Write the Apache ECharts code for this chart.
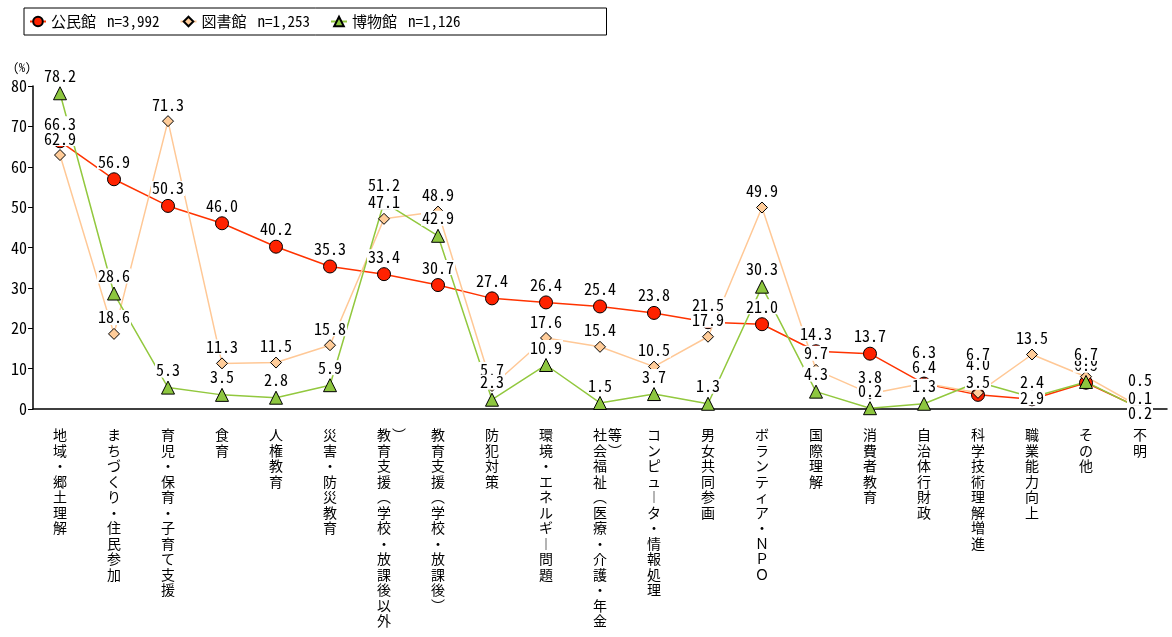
<!DOCTYPE html>
<html>
<head>
<meta charset="utf-8">
<script src="https://cdn.jsdelivr.net/npm/echarts@6/dist/echarts.min.js"></script>
<style>
  html, body { margin: 0; padding: 0; background: #fff; }
  #chart { width: 1172px; height: 637px; }
</style>
</head>
<body>
<div id="chart"></div>
<script>
// 学習内容の分野別実施割合（施設種別）
const categories = [
  '地域・郷土理解', 'まちづくり・住民参加', '育児・保育・子育て支援', '食育', '人権教育',
  '災害・防災教育', '教育支援（学校・放課後以外）', '教育支援（学校・放課後）', '防犯対策',
  '環境・エネルギー問題', '社会福祉（医療・介護・年金等）', 'コンピュータ・情報処理',
  '男女共同参画', 'ボランティア・ＮＰＯ', '国際理解', '消費者教育', '自治体行財政',
  '科学技術理解増進', '職業能力向上', 'その他', '不明'
];

const seriesNames = ['公民館', '図書館', '博物館'];
const sampleSizes = ['n=3,992', 'n=1,253', 'n=1,126'];

const kominkan     = [66.3, 56.9, 50.3, 46.0, 40.2, 35.3, 33.4, 30.7, 27.4, 26.4, 25.4, 23.8, 21.5, 21.0, 14.3, 13.7, 6.3, 3.5, 2.4, 6.5, 0.2];
const toshokan     = [62.9, 18.6, 71.3, 11.3, 11.5, 15.8, 47.1, 48.9, 5.7, 17.6, 15.4, 10.5, 17.9, 49.9, 9.7, 3.8, 6.4, 4.0, 13.5, 8.0, 0.5];
const hakubutsukan = [78.2, 28.6, 5.3, 3.5, 2.8, 5.9, 51.2, 42.9, 2.3, 10.9, 1.5, 3.7, 1.3, 30.3, 4.3, 0.2, 1.3, 6.7, 2.9, 6.7, 0.1];

const yTicks = { min: 0, max: 80, interval: 10 };

// label nudges for crowded points: [seriesIndex, categoryIndex, dx, dy]
const labelNudges = [
  [0, 16, 0, -14],
  [2, 17, 0, -11],
  [1, 17, 0, -12],
  [0, 17, 0, 5],
  [2, 18, 0, 18],
  [2, 19, 0, -11],
  [1, 20, 0, -11],
  [2, 20, 0, 7],
  [0, 20, 0, 22]
];

const NUM_FONT = "'Noto Sans Mono CJK JP', 'DejaVu Sans Mono', monospace";
const JP_FONT = "'Noto Sans CJK JP', sans-serif";

// vertical writing: rotate brackets and long vowel marks, wrap long columns
const VERT = { '（': '︵', '）': '︶', 'ー': '︱' };
const COL_LEN = 13;
function verticalLabel(text) {
  const chars = Array.from(text).map(c => VERT[c] || c);
  if (chars.length <= COL_LEN) return chars.join('\n');
  const first = chars.slice(0, COL_LEN);
  const rest = chars.slice(COL_LEN);
  return first.map((c, i) => '{p| }{a|' + c + '}{b|' + (rest[i] || ' ') + '}').join('\n');
}

const styles = [
  { color: '#FF3300', fill: '#FF2200', symbol: 'circle', size: 13 },
  { color: '#FFC896', fill: '#FFCC99', symbol: 'diamond', size: 11 },
  { color: '#92C83E', fill: '#8DC63F', symbol: 'triangle', size: 13 }
];

function buildData(values, si) {
  return values.map((v, i) => {
    const n = labelNudges.find(x => x[0] === si && x[1] === i);
    if (!n) return v;
    return { value: v, label: { offset: [n[2], n[3]] } };
  });
}

const allValues = [kominkan, toshokan, hakubutsukan];

const chart = echarts.init(document.getElementById('chart'), null, { renderer: 'canvas' });

chart.setOption({
  animation: false,
  backgroundColor: '#fff',
  legend: {
    left: 24,
    top: 8,
    orient: 'horizontal',
    padding: [6, 146, 6, 5],
    itemWidth: 16,
    itemHeight: 12,
    itemGap: 20,
    borderColor: '#000',
    borderWidth: 1,
    data: seriesNames,
    formatter: name => '{n|' + name + '}{c|' + sampleSizes[seriesNames.indexOf(name)] + '}',
    textStyle: {
      rich: {
        n: { fontFamily: JP_FONT, fontSize: 15, color: '#000', width: 56 },
        c: { fontFamily: NUM_FONT, fontSize: 15, color: '#000', width: 82 }
      }
    }
  },
  grid: { left: 33, right: 5, top: 86, bottom: 228, containLabel: false },
  xAxis: {
    type: 'category',
    data: categories,
    boundaryGap: true,
    axisLine: { lineStyle: { color: '#000', width: 1.5 } },
    axisTick: { show: false },
    axisLabel: {
      interval: 0,
      margin: 18,
      fontFamily: JP_FONT,
      fontSize: 14,
      lineHeight: 15.5,
      color: '#000',
      verticalAlign: 'top',
      formatter: verticalLabel,
      rich: {
        p: { width: 16, fontSize: 14, lineHeight: 15.5 },
        a: { width: 14, align: 'center', fontSize: 14, lineHeight: 15.5, fontFamily: JP_FONT, color: '#000' },
        b: { width: 16, align: 'center', fontSize: 14, lineHeight: 15.5, fontFamily: JP_FONT, color: '#000' }
      }
    },
    splitLine: { show: false }
  },
  yAxis: {
    type: 'value',
    min: yTicks.min,
    max: yTicks.max,
    interval: yTicks.interval,
    name: '(%)',
    nameLocation: 'end',
    nameGap: 13,
    nameTextStyle: { fontFamily: NUM_FONT, fontSize: 12, color: '#000', align: 'right', padding: [0, 2, 0, 0] },
    axisLine: { show: true, lineStyle: { color: '#000', width: 1.5 } },
    axisTick: { show: true, length: 5, lineStyle: { color: '#000' } },
    axisLabel: { fontFamily: NUM_FONT, fontSize: 16, color: '#000', margin: 6 },
    splitLine: { show: false }
  },
  series: allValues.map((vals, si) => ({
    name: seriesNames[si],
    type: 'line',
    data: buildData(vals, si),
    symbol: styles[si].symbol,
    symbolSize: styles[si].size,
    lineStyle: { color: styles[si].color, width: 1.5 },
    itemStyle: { color: styles[si].fill, borderColor: '#000', borderWidth: 1 },
    label: {
      show: true,
      position: 'top',
      distance: 3,
      formatter: p => Number(p.value).toFixed(1),
      fontFamily: NUM_FONT,
      fontSize: 16,
      lineHeight: 15,
      color: '#000',
      backgroundColor: '#fff',
      padding: [0, 1]
    },
    emphasis: { disabled: true }
  }))
});
</script>
</body>
</html>
